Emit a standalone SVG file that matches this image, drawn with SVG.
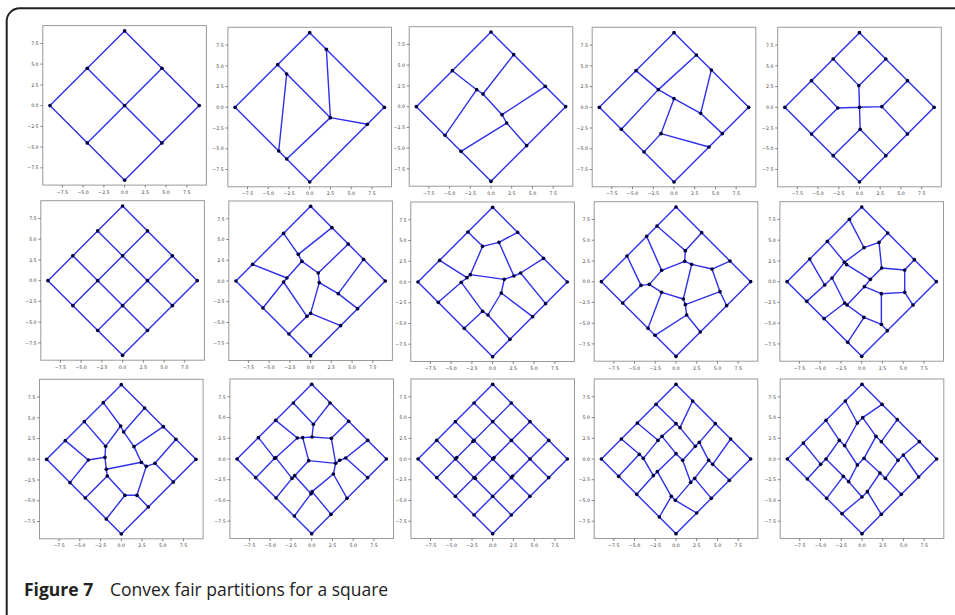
<svg xmlns="http://www.w3.org/2000/svg" xmlns:xlink="http://www.w3.org/1999/xlink" width="955" height="615" viewBox="0 0 955 615">
<style>
.fr{fill:none;stroke:#9a9a9a;stroke-width:1}
.tk{stroke:#555;stroke-width:0.7}
.tl{font-family:"DejaVu Sans",sans-serif;font-size:4.7px;fill:#444}
.tx{text-anchor:middle}
.ty{text-anchor:end}
.e path{fill:none;stroke:#2f2fec;stroke-width:4.2;stroke-linejoin:round}
.n circle{fill:#00003c}
.cap{font-family:"Open Sans","Noto Sans",sans-serif;font-size:17.5px;fill:#222}
</style>
<defs>
<g id="ax">
<rect class="fr" x="-81.8" y="-80" width="163.6" height="159.5"/>
<path class="tk" d="M-62.2 79.5V82M-41.5 79.5V82M-20.7 79.5V82M0 79.5V82M20.7 79.5V82M41.5 79.5V82M62.2 79.5V82M-81.8 -62.2H-84.3M-81.8 -41.5H-84.3M-81.8 -20.7H-84.3M-81.8 0H-84.3M-81.8 20.7H-84.3M-81.8 41.5H-84.3M-81.8 62.2H-84.3"/>
<g class="tl tx">
<text x="-62.2" y="88">−7.5</text><text x="-41.5" y="88">−5.0</text><text x="-20.7" y="88">−2.5</text><text x="0" y="88">0.0</text><text x="20.7" y="88">2.5</text><text x="41.5" y="88">5.0</text><text x="62.2" y="88">7.5</text>
</g>
<g class="tl ty">
<text x="-86" y="-60.5">7.5</text><text x="-86" y="-39.8">5.0</text><text x="-86" y="-19">2.5</text><text x="-86" y="1.7">0.0</text><text x="-86" y="22.4">−2.5</text><text x="-86" y="43.2">−5.0</text><text x="-86" y="63.9">−7.5</text>
</g>
</g>
</defs>

<path d="M6.7 630V21.3A13 13 0 0 1 19.7 8.3H970" fill="none" stroke="#222" stroke-width="2"/>

<!-- Row 1 -->
<g id="p1" transform="translate(124.6 105.6)">
<use href="#ax"/>
<g transform="scale(0.3333)">
<g class="e"><path d="M0 -224L224 0L0 224L-224 0Z M-112 -112L112 112 M112 -112L-112 112"/></g>
<g class="n"><circle cx="0" cy="-224" r="5.5"/><circle cx="224" cy="0" r="5.5"/><circle cx="0" cy="224" r="5.5"/><circle cx="-224" cy="0" r="5.5"/><circle cx="-112" cy="-112" r="5.5"/><circle cx="112" cy="-112" r="5.5"/><circle cx="-112" cy="112" r="5.5"/><circle cx="112" cy="112" r="5.5"/><circle cx="0" cy="0" r="5.5"/></g>
</g>
</g>

<g id="p2" transform="translate(309.7 107.3)">
<use href="#ax"/>
<g transform="scale(0.3333)">
<g class="e"><path d="M0 -224L224 0L0 224L-224 0Z M-96 -128L62 31 M-69 -100L-93 131 M50 -174L62 31 M62 31L173 51 M62 31L-69 155"/></g>
<g class="n"><circle cx="0" cy="-224" r="5.5"/><circle cx="224" cy="0" r="5.5"/><circle cx="0" cy="224" r="5.5"/><circle cx="-224" cy="0" r="5.5"/><circle cx="50" cy="-174" r="5.5"/><circle cx="-96" cy="-128" r="5.5"/><circle cx="-69" cy="-100" r="5.5"/><circle cx="62" cy="31" r="5.5"/><circle cx="173" cy="51" r="5.5"/><circle cx="-93" cy="131" r="5.5"/><circle cx="-69" cy="155" r="5.5"/></g>
</g>
</g>

<g id="p3" transform="translate(491 106.7)">
<use href="#ax"/>
<g transform="scale(0.3333)">
<g class="e"><path d="M0 -224L224 0L0 224L-224 0Z M-116 -108L-43 -51L-24 -38L33 24L47 49L107 117 M68 -156L-24 -38 M-43 -51L-138 86 M163 -61L33 24 M47 49L-90 134"/></g>
<g class="n"><circle cx="0" cy="-224" r="5.5"/><circle cx="224" cy="0" r="5.5"/><circle cx="0" cy="224" r="5.5"/><circle cx="-224" cy="0" r="5.5"/><circle cx="68" cy="-156" r="5.5"/><circle cx="-116" cy="-108" r="5.5"/><circle cx="-43" cy="-51" r="5.5"/><circle cx="-24" cy="-38" r="5.5"/><circle cx="163" cy="-61" r="5.5"/><circle cx="33" cy="24" r="5.5"/><circle cx="47" cy="49" r="5.5"/><circle cx="-138" cy="86" r="5.5"/><circle cx="-90" cy="134" r="5.5"/><circle cx="107" cy="117" r="5.5"/></g>
</g>
</g>

<g id="p4" transform="translate(674 107.3)">
<use href="#ax"/>
<g transform="scale(0.3333)">
<g class="e"><path d="M0 -224L224 0L0 224L-224 0Z M67 -157L-47 -53L-158 66 M-114 -110L-47 -53L0 -26L80 18L145 79 M112 -112L80 18 M0 -26L-39 79L105 119 M-39 79L-90 134"/></g>
<g class="n"><circle cx="0" cy="-224" r="5.5"/><circle cx="224" cy="0" r="5.5"/><circle cx="0" cy="224" r="5.5"/><circle cx="-224" cy="0" r="5.5"/><circle cx="67" cy="-157" r="5.5"/><circle cx="-114" cy="-110" r="5.5"/><circle cx="112" cy="-112" r="5.5"/><circle cx="-47" cy="-53" r="5.5"/><circle cx="0" cy="-26" r="5.5"/><circle cx="80" cy="18" r="5.5"/><circle cx="-158" cy="66" r="5.5"/><circle cx="145" cy="79" r="5.5"/><circle cx="-39" cy="79" r="5.5"/><circle cx="105" cy="119" r="5.5"/><circle cx="-90" cy="134" r="5.5"/></g>
</g>
</g>

<g id="p5" transform="translate(859.5 107.3)">
<use href="#ax"/>
<g transform="scale(0.3333)">
<g class="e"><path d="M0 -224L224 0L0 224L-224 0Z M-79 -145L-2 -65L79 -145 M-2 -65L0 0 M-144 -80L-65 2L-144 80 M-65 2L0 0L67 -2 M144 -80L67 -2L144 80 M0 0L2 66 M-79 145L2 66L79 145"/></g>
<g class="n"><circle cx="0" cy="-224" r="5.5"/><circle cx="224" cy="0" r="5.5"/><circle cx="0" cy="224" r="5.5"/><circle cx="-224" cy="0" r="5.5"/><circle cx="-79" cy="-145" r="5.5"/><circle cx="79" cy="-145" r="5.5"/><circle cx="-144" cy="-80" r="5.5"/><circle cx="144" cy="-80" r="5.5"/><circle cx="-2" cy="-65" r="5.5"/><circle cx="-65" cy="2" r="5.5"/><circle cx="0" cy="0" r="5.5"/><circle cx="67" cy="-2" r="5.5"/><circle cx="2" cy="66" r="5.5"/><circle cx="-144" cy="80" r="5.5"/><circle cx="144" cy="80" r="5.5"/><circle cx="-79" cy="145" r="5.5"/><circle cx="79" cy="145" r="5.5"/></g>
</g>
</g>

<!-- Row 2 -->
<g id="p6" transform="translate(122.6 280.7)">
<use href="#ax"/>
<g transform="scale(0.3333)">
<g class="e"><path d="M0 -224L224 0L0 224L-224 0Z M-149.3 -74.7L74.7 149.3 M-74.7 -149.3L149.3 74.7 M-149.3 74.7L74.7 -149.3 M-74.7 149.3L149.3 -74.7"/></g>
<g class="n"><circle cx="0" cy="-224" r="5.5"/><circle cx="224" cy="0" r="5.5"/><circle cx="0" cy="224" r="5.5"/><circle cx="-224" cy="0" r="5.5"/><circle cx="-149.3" cy="-74.7" r="5.5"/><circle cx="-74.7" cy="-149.3" r="5.5"/><circle cx="-149.3" cy="74.7" r="5.5"/><circle cx="-74.7" cy="0" r="5.5"/><circle cx="0" cy="-74.7" r="5.5"/><circle cx="74.7" cy="-149.3" r="5.5"/><circle cx="-74.7" cy="149.3" r="5.5"/><circle cx="0" cy="74.7" r="5.5"/><circle cx="74.7" cy="0" r="5.5"/><circle cx="149.3" cy="-74.7" r="5.5"/><circle cx="74.7" cy="149.3" r="5.5"/><circle cx="149.3" cy="74.7" r="5.5"/></g>
</g>
</g>

<g id="p7" transform="translate(310.6 281)">
<use href="#ax"/>
<g transform="scale(0.3333)">
<g class="e"><path d="M0 -224L224 0L0 224L-224 0Z M64 -160L-37 -80L-81 -143 M-37 -80L-26 -59L23 -24L113 -111 M-26 -59L-71 -9L-174 -50 M-71 -9L-81 3L-143 81 M-81 3L-11 106L-65 159 M23 -24L26 5L0 97L90 134 M26 5L83 38L159 -65 M83 38L141 83 M0 97L-11 106"/></g>
<g class="n"><circle cx="0" cy="-224" r="5.5"/><circle cx="224" cy="0" r="5.5"/><circle cx="0" cy="224" r="5.5"/><circle cx="-224" cy="0" r="5.5"/><circle cx="64" cy="-160" r="5.5"/><circle cx="-81" cy="-143" r="5.5"/><circle cx="113" cy="-111" r="5.5"/><circle cx="-37" cy="-80" r="5.5"/><circle cx="-26" cy="-59" r="5.5"/><circle cx="159" cy="-65" r="5.5"/><circle cx="-174" cy="-50" r="5.5"/><circle cx="23" cy="-24" r="5.5"/><circle cx="-71" cy="-9" r="5.5"/><circle cx="-81" cy="3" r="5.5"/><circle cx="26" cy="5" r="5.5"/><circle cx="83" cy="38" r="5.5"/><circle cx="-143" cy="81" r="5.5"/><circle cx="141" cy="83" r="5.5"/><circle cx="0" cy="97" r="5.5"/><circle cx="-11" cy="106" r="5.5"/><circle cx="90" cy="134" r="5.5"/><circle cx="-65" cy="159" r="5.5"/></g>
</g>
</g>

<g id="p8" transform="translate(492.6 282)">
<use href="#ax"/>
<g transform="scale(0.3333)">
<g class="e"><path d="M0 -224L224 0L0 224L-224 0Z M-74 -150L-30 -107L19 -119L75 -149 M-30 -107L-67 -22L-77 -13L-159 -65 M19 -119L64 -18L84 -27L153 -71 M84 -27L159 65 M-67 -22L35 -8L64 -18 M35 -8L26 33L120 104 M26 33L-14 99L52 172 M-77 -13L-94 1L-163 61 M-94 1L-30 88L-14 99 M-30 88L-85 139"/></g>
<g class="n"><circle cx="0" cy="-224" r="5.5"/><circle cx="224" cy="0" r="5.5"/><circle cx="0" cy="224" r="5.5"/><circle cx="-224" cy="0" r="5.5"/><circle cx="-74" cy="-150" r="5.5"/><circle cx="75" cy="-149" r="5.5"/><circle cx="19" cy="-119" r="5.5"/><circle cx="-30" cy="-107" r="5.5"/><circle cx="-159" cy="-65" r="5.5"/><circle cx="153" cy="-71" r="5.5"/><circle cx="-67" cy="-22" r="5.5"/><circle cx="-77" cy="-13" r="5.5"/><circle cx="64" cy="-18" r="5.5"/><circle cx="84" cy="-27" r="5.5"/><circle cx="35" cy="-8" r="5.5"/><circle cx="-94" cy="1" r="5.5"/><circle cx="26" cy="33" r="5.5"/><circle cx="-163" cy="61" r="5.5"/><circle cx="159" cy="65" r="5.5"/><circle cx="-30" cy="88" r="5.5"/><circle cx="-14" cy="99" r="5.5"/><circle cx="120" cy="104" r="5.5"/><circle cx="-85" cy="139" r="5.5"/><circle cx="52" cy="172" r="5.5"/></g>
</g>
</g>

<g id="p9" transform="translate(676 281.7)">
<use href="#ax"/>
<g transform="scale(0.3333)">
<g class="e"><path d="M0 -224L224 0L0 224L-224 0Z M-57 -167L28 -93L77 -147 M28 -93L26 -61L-43 -34L-88 -136 M26 -61L47 -52L108 -38L162 -62 M108 -38L132 30L152 72 M-43 -34L-80 8L-105 11L-147 -77 M-105 11L-160 64 M-80 8L-43 32L22 52L47 -52 M-43 32L-84 140 M22 52L28 69L132 30 M28 69L32 100L-63 161 M32 100L73 151"/></g>
<g class="n"><circle cx="0" cy="-224" r="5.5"/><circle cx="224" cy="0" r="5.5"/><circle cx="0" cy="224" r="5.5"/><circle cx="-224" cy="0" r="5.5"/><circle cx="-57" cy="-167" r="5.5"/><circle cx="77" cy="-147" r="5.5"/><circle cx="-88" cy="-136" r="5.5"/><circle cx="28" cy="-93" r="5.5"/><circle cx="-147" cy="-77" r="5.5"/><circle cx="26" cy="-61" r="5.5"/><circle cx="47" cy="-52" r="5.5"/><circle cx="-43" cy="-34" r="5.5"/><circle cx="108" cy="-38" r="5.5"/><circle cx="162" cy="-62" r="5.5"/><circle cx="-105" cy="11" r="5.5"/><circle cx="-80" cy="8" r="5.5"/><circle cx="-43" cy="32" r="5.5"/><circle cx="132" cy="30" r="5.5"/><circle cx="22" cy="52" r="5.5"/><circle cx="28" cy="69" r="5.5"/><circle cx="-160" cy="64" r="5.5"/><circle cx="152" cy="72" r="5.5"/><circle cx="32" cy="100" r="5.5"/><circle cx="-84" cy="140" r="5.5"/><circle cx="-63" cy="161" r="5.5"/><circle cx="73" cy="151" r="5.5"/></g>
</g>
</g>

<g id="p10" transform="translate(861.7 281.7)">
<use href="#ax"/>
<g transform="scale(0.3333)">
<g class="e"><path d="M0 -224L224 0L0 224L-224 0Z M-37 -187L7 -102L52 -118L78 -146 M52 -118L60 -41L129 -35L158 -66 M7 -102L-52 -58L-89 -11L-111 10L-156 -68 M-111 10L-165 59 M-52 -58L-45 -51L-103 -121 M-45 -51L26 -7L60 -41 M26 -7L8 15L59 36L129 32L129 -35 M129 32L154 70 M59 36L59 128L77 147 M59 128L7 107L-42 182 M7 107L-44 70L8 15 M-44 70L-51 64L-89 -11 M-51 64L-113 111"/></g>
<g class="n"><circle cx="0" cy="-224" r="5.5"/><circle cx="224" cy="0" r="5.5"/><circle cx="0" cy="224" r="5.5"/><circle cx="-224" cy="0" r="5.5"/><circle cx="-37" cy="-187" r="5.5"/><circle cx="78" cy="-146" r="5.5"/><circle cx="-103" cy="-121" r="5.5"/><circle cx="52" cy="-118" r="5.5"/><circle cx="7" cy="-102" r="5.5"/><circle cx="-156" cy="-68" r="5.5"/><circle cx="158" cy="-66" r="5.5"/><circle cx="-52" cy="-58" r="5.5"/><circle cx="-45" cy="-51" r="5.5"/><circle cx="60" cy="-41" r="5.5"/><circle cx="129" cy="-35" r="5.5"/><circle cx="-89" cy="-11" r="5.5"/><circle cx="26" cy="-7" r="5.5"/><circle cx="-111" cy="10" r="5.5"/><circle cx="8" cy="15" r="5.5"/><circle cx="59" cy="36" r="5.5"/><circle cx="129" cy="32" r="5.5"/><circle cx="-165" cy="59" r="5.5"/><circle cx="-51" cy="64" r="5.5"/><circle cx="-44" cy="70" r="5.5"/><circle cx="154" cy="70" r="5.5"/><circle cx="7" cy="107" r="5.5"/><circle cx="-113" cy="111" r="5.5"/><circle cx="59" cy="128" r="5.5"/><circle cx="77" cy="147" r="5.5"/><circle cx="-42" cy="182" r="5.5"/></g>
</g>
</g>

<!-- Row 3 -->
<g id="p11" transform="translate(121.3 459.3)">
<use href="#ax"/>
<g transform="scale(0.3333)">
<g class="e"><path d="M0 -224L224 0L0 224L-224 0Z M-54 -170L-2 -100L7 -82L70 -154 M-2 -100L-47 -39L-111 -113 M7 -82L38 -38L126 -98 M38 -38L60 9L75 21L101 12L164 -60 M101 12L156 68 M-47 -39L-49 -6L-99 2L-168 -56 M-99 2L-154 70 M-49 -6L-45 30L60 9 M-45 30L-42 50L-108 116 M-42 50L11 108L47 108L75 21 M47 108L81 143 M11 108L-45 179"/></g>
<g class="n"><circle cx="0" cy="-224" r="5.5"/><circle cx="224" cy="0" r="5.5"/><circle cx="0" cy="224" r="5.5"/><circle cx="-224" cy="0" r="5.5"/><circle cx="-54" cy="-170" r="5.5"/><circle cx="70" cy="-154" r="5.5"/><circle cx="-111" cy="-113" r="5.5"/><circle cx="-2" cy="-100" r="5.5"/><circle cx="7" cy="-82" r="5.5"/><circle cx="126" cy="-98" r="5.5"/><circle cx="-168" cy="-56" r="5.5"/><circle cx="-47" cy="-39" r="5.5"/><circle cx="38" cy="-38" r="5.5"/><circle cx="164" cy="-60" r="5.5"/><circle cx="-49" cy="-6" r="5.5"/><circle cx="-99" cy="2" r="5.5"/><circle cx="60" cy="9" r="5.5"/><circle cx="75" cy="21" r="5.5"/><circle cx="101" cy="12" r="5.5"/><circle cx="-45" cy="30" r="5.5"/><circle cx="-42" cy="50" r="5.5"/><circle cx="-154" cy="70" r="5.5"/><circle cx="156" cy="68" r="5.5"/><circle cx="-108" cy="116" r="5.5"/><circle cx="11" cy="108" r="5.5"/><circle cx="47" cy="108" r="5.5"/><circle cx="81" cy="143" r="5.5"/><circle cx="-45" cy="179" r="5.5"/></g>
</g>
</g>

<g id="p12" transform="translate(311.7 459)">
<use href="#ax"/>
<g transform="scale(0.3333)">
<g class="e"><path d="M0 -224L224 0L0 224L-224 0Z M-55 -168L5 -104L55 -168 M5 -104L1 -66 M-108 -116L-43 -63L-27 -64L1 -66L59 -62L111 -113 M59 -62L72 13 M-27 -64L-9 5L72 13L84 4L102 -3L168 -56 M102 -3L168 56 M72 13L65 45L106 118 M65 45L1 98L-2 104L-52 171 M1 98L58 166 M-160 -64L-111 -2L-168 56 M-111 -2L-108 -4L-43 -63 M-108 -4L-59 58L-107 117 M-59 58L-51 50L-9 5 M-51 50L-2 104"/></g>
<g class="n"><circle cx="0" cy="-224" r="5.5"/><circle cx="224" cy="0" r="5.5"/><circle cx="0" cy="224" r="5.5"/><circle cx="-224" cy="0" r="5.5"/><circle cx="-55" cy="-168" r="5.5"/><circle cx="55" cy="-168" r="5.5"/><circle cx="-108" cy="-116" r="5.5"/><circle cx="5" cy="-104" r="5.5"/><circle cx="111" cy="-113" r="5.5"/><circle cx="-160" cy="-64" r="5.5"/><circle cx="-43" cy="-63" r="5.5"/><circle cx="-27" cy="-64" r="5.5"/><circle cx="1" cy="-66" r="5.5"/><circle cx="59" cy="-62" r="5.5"/><circle cx="168" cy="-56" r="5.5"/><circle cx="-111" cy="-2" r="5.5"/><circle cx="-108" cy="-4" r="5.5"/><circle cx="-9" cy="5" r="5.5"/><circle cx="72" cy="13" r="5.5"/><circle cx="84" cy="4" r="5.5"/><circle cx="102" cy="-3" r="5.5"/><circle cx="-168" cy="56" r="5.5"/><circle cx="168" cy="56" r="5.5"/><circle cx="-51" cy="50" r="5.5"/><circle cx="-59" cy="58" r="5.5"/><circle cx="65" cy="45" r="5.5"/><circle cx="1" cy="98" r="5.5"/><circle cx="-2" cy="104" r="5.5"/><circle cx="-107" cy="117" r="5.5"/><circle cx="106" cy="118" r="5.5"/><circle cx="-52" cy="171" r="5.5"/><circle cx="58" cy="166" r="5.5"/></g>
</g>
</g>

<g id="p13" transform="translate(492.7 459)">
<use href="#ax"/>
<g transform="scale(0.3333)">
<g class="e"><path d="M0 -224L224 0L0 224L-224 0Z M-168 -56L56 168 M-112 -112L112 112 M-56 -168L168 56 M-168 56L56 -168 M-112 112L112 -112 M-56 168L168 -56"/></g>
<g class="n"><circle cx="0" cy="-224" r="5.5"/><circle cx="224" cy="0" r="5.5"/><circle cx="0" cy="224" r="5.5"/><circle cx="-224" cy="0" r="5.5"/><circle cx="-168" cy="-56" r="5.5"/><circle cx="-112" cy="-112" r="5.5"/><circle cx="-56" cy="-168" r="5.5"/><circle cx="-168" cy="56" r="5.5"/><circle cx="-112" cy="0" r="5.5"/><circle cx="-56" cy="-56" r="5.5"/><circle cx="0" cy="-112" r="5.5"/><circle cx="56" cy="-168" r="5.5"/><circle cx="-112" cy="112" r="5.5"/><circle cx="-56" cy="56" r="5.5"/><circle cx="0" cy="0" r="5.5"/><circle cx="56" cy="-56" r="5.5"/><circle cx="112" cy="-112" r="5.5"/><circle cx="-56" cy="168" r="5.5"/><circle cx="0" cy="112" r="5.5"/><circle cx="56" cy="56" r="5.5"/><circle cx="112" cy="0" r="5.5"/><circle cx="168" cy="-56" r="5.5"/><circle cx="56" cy="168" r="5.5"/><circle cx="112" cy="112" r="5.5"/><circle cx="168" cy="56" r="5.5"/><circle cx="-108" cy="-4" r="5.5"/><circle cx="-59" cy="-53" r="5.5"/><circle cx="-52" cy="58" r="5.5"/><circle cx="4" cy="-4" r="5.5"/><circle cx="60" cy="51" r="5.5"/></g>
</g>
</g>

<g id="p14" transform="translate(676 459)">
<use href="#ax"/>
<g transform="scale(0.3333)">
<g class="e"><path d="M0 -224L224 0L0 224L-224 0Z M-164 -60L-110 -14L-98 -2L-68 50L-56 38L-14 112L-2 124L62 162 M-116 -108L-54 -56L-42 -68L0 -16L20 4L44 70L56 58L106 118 M-60 -164L0 -106L12 -94L58 -38L70 -50L98 4L110 16L160 64 M-172 52L-110 -14L-98 -2L-54 -56L-42 -68L0 -106L12 -94L50 -174 M-118 106L-68 50L-56 38L0 -16L20 4L58 -38L70 -50L118 -106 M-50 174L-14 112L-2 124L44 70L56 58L98 4L110 16L164 -60"/></g>
<g class="n"><circle cx="0" cy="-224" r="5.5"/><circle cx="224" cy="0" r="5.5"/><circle cx="0" cy="224" r="5.5"/><circle cx="-224" cy="0" r="5.5"/><circle cx="-164" cy="-60" r="5.5"/><circle cx="-116" cy="-108" r="5.5"/><circle cx="-60" cy="-164" r="5.5"/><circle cx="62" cy="162" r="5.5"/><circle cx="106" cy="118" r="5.5"/><circle cx="160" cy="64" r="5.5"/><circle cx="-172" cy="52" r="5.5"/><circle cx="-118" cy="106" r="5.5"/><circle cx="-50" cy="174" r="5.5"/><circle cx="50" cy="-174" r="5.5"/><circle cx="118" cy="-106" r="5.5"/><circle cx="164" cy="-60" r="5.5"/><circle cx="-110" cy="-14" r="5.5"/><circle cx="-98" cy="-2" r="5.5"/><circle cx="-54" cy="-56" r="5.5"/><circle cx="-42" cy="-68" r="5.5"/><circle cx="0" cy="-106" r="5.5"/><circle cx="12" cy="-94" r="5.5"/><circle cx="-68" cy="50" r="5.5"/><circle cx="-56" cy="38" r="5.5"/><circle cx="0" cy="-16" r="5.5"/><circle cx="20" cy="4" r="5.5"/><circle cx="58" cy="-38" r="5.5"/><circle cx="70" cy="-50" r="5.5"/><circle cx="-14" cy="112" r="5.5"/><circle cx="-2" cy="124" r="5.5"/><circle cx="44" cy="70" r="5.5"/><circle cx="56" cy="58" r="5.5"/><circle cx="98" cy="4" r="5.5"/><circle cx="110" cy="16" r="5.5"/></g>
</g>
</g>

<g id="p15" transform="translate(862 459)">
<use href="#ax"/>
<g transform="scale(0.3333)">
<g class="e"><path d="M0 -224L224 0L0 224L-224 0Z M-176 -48L-124 16L-108 0L-56 52L-40 68L0 114L16 98L58 166 M-108 -116L-68 -56L-52 -40L-14 18L6 -2L54 42L70 58L118 106 M-50 -174L-14 -108L2 -124L42 -68L58 -52L108 4L124 -12L170 54 M-164 60L-124 16L-108 0L-68 -56L-52 -40L-14 -108L2 -124L60 -164 M-106 118L-56 52L-40 68L-14 18L6 -2L42 -68L58 -52L106 -118 M-60 164L0 114L16 98L54 42L70 58L108 4L124 -12L172 -52"/></g>
<g class="n"><circle cx="0" cy="-224" r="5.5"/><circle cx="224" cy="0" r="5.5"/><circle cx="0" cy="224" r="5.5"/><circle cx="-224" cy="0" r="5.5"/><circle cx="-176" cy="-48" r="5.5"/><circle cx="-108" cy="-116" r="5.5"/><circle cx="-50" cy="-174" r="5.5"/><circle cx="58" cy="166" r="5.5"/><circle cx="118" cy="106" r="5.5"/><circle cx="170" cy="54" r="5.5"/><circle cx="-164" cy="60" r="5.5"/><circle cx="-106" cy="118" r="5.5"/><circle cx="-60" cy="164" r="5.5"/><circle cx="60" cy="-164" r="5.5"/><circle cx="106" cy="-118" r="5.5"/><circle cx="172" cy="-52" r="5.5"/><circle cx="-124" cy="16" r="5.5"/><circle cx="-108" cy="0" r="5.5"/><circle cx="-68" cy="-56" r="5.5"/><circle cx="-52" cy="-40" r="5.5"/><circle cx="-14" cy="-108" r="5.5"/><circle cx="2" cy="-124" r="5.5"/><circle cx="-56" cy="52" r="5.5"/><circle cx="-40" cy="68" r="5.5"/><circle cx="-14" cy="18" r="5.5"/><circle cx="6" cy="-2" r="5.5"/><circle cx="42" cy="-68" r="5.5"/><circle cx="58" cy="-52" r="5.5"/><circle cx="0" cy="114" r="5.5"/><circle cx="16" cy="98" r="5.5"/><circle cx="54" cy="42" r="5.5"/><circle cx="70" cy="58" r="5.5"/><circle cx="108" cy="4" r="5.5"/><circle cx="124" cy="-12" r="5.5"/></g>
</g>
</g>

<g id="caption" class="cap">
<text x="24" y="596" font-weight="bold">Figure 7</text>
<text x="110" y="596">Convex fair partitions for a square</text>
</g>
</svg>
